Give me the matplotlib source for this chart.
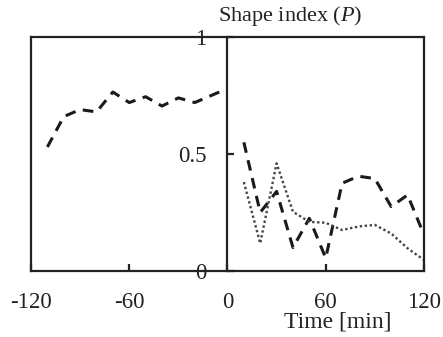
import matplotlib
matplotlib.use("Agg")
import matplotlib.pyplot as plt

plt.rcParams['font.family'] = 'Liberation Serif'
plt.rcParams['mathtext.fontset'] = 'custom'
plt.rcParams['mathtext.it'] = 'Liberation Serif:italic'
plt.rcParams['mathtext.rm'] = 'Liberation Serif'

# before (negative time)
t_pre = [-110, -100, -90, -80, -70, -60, -50, -40, -30, -20, -10, 0]
p_pre = [0.53, 0.66, 0.69, 0.68, 0.765, 0.72, 0.745, 0.705, 0.74, 0.72, 0.75, 0.78]

# after
t_post = [10, 20, 30, 40, 50, 60, 70, 80, 90, 100, 110, 120]
p_dash = [0.55, 0.25, 0.34, 0.10, 0.225, 0.055, 0.375, 0.405, 0.395, 0.275, 0.325, 0.155]
p_dot = [0.38, 0.118, 0.46, 0.253, 0.21, 0.206, 0.175, 0.19, 0.197, 0.16, 0.097, 0.047]

xticks = [-120, -60, 0, 60, 120]
yticks = [0, 0.5, 1]
yticklabels = ['0', '0.5', '1']

fig = plt.figure(figsize=(4.43, 3.37), dpi=100)
ax = fig.add_axes([0.07, 0.196, 0.887, 0.694])

ax.plot(t_pre, p_pre, color='#1a1a1a', lw=2.2, dashes=(3.5, 2.5))
ax.plot(t_post, p_dash, color='#1a1a1a', lw=2.2, dashes=(3.5, 2.5))
ax.plot(t_post, p_dot, color='#444444', lw=1.7, dashes=(1, 1.1))

ax.set_xlim(-120, 120)
ax.set_ylim(0, 1)
ax.spines['left'].set_position(('data', 0))
ax.axvline(-120, color='#222222', lw=1.6, clip_on=False)
for s in ax.spines.values():
    s.set_linewidth(1.6)
    s.set_color('#222222')

ax.set_xticks(xticks)
ax.set_xticklabels([str(v) for v in xticks])
ax.set_yticks(yticks)
ax.set_yticklabels(yticklabels)
ax.tick_params(axis='x', direction='in', length=5, width=1.6, pad=15, labelsize=16.5, colors='#222222')
ax.tick_params(axis='y', direction='in', length=5, width=1.6, pad=15, labelsize=16.5, colors='#222222')

fig.text(0.655, 0.952, 'Shape index ($P$)', ha='center', va='center', fontsize=16, color='#222222')
fig.text(0.763, 0.045, 'Time [min]', ha='center', va='center', fontsize=17, color='#222222')

fig.savefig('out.png', dpi=100)
